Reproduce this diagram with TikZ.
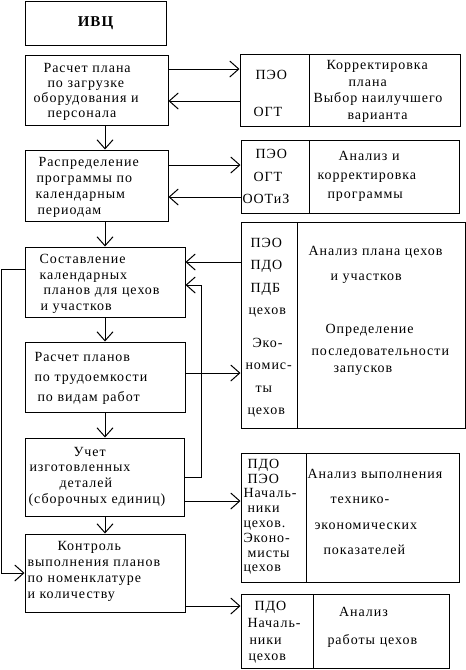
\documentclass[tikz,border=0pt]{standalone}
\usepackage{fontspec}
\setmainfont{Liberation Serif}[LetterSpace=7]
\usetikzlibrary{arrows.meta}

\begin{document}
\begin{tikzpicture}[x=1pt,y=-1pt,line width=1pt,
        >={Straight Barb[length=9pt,width=16pt]},
        box/.style={draw, inner sep=0pt},
        txt/.style={anchor=base west, inner sep=0pt, align=left, text width=170pt},
        lsk/.style={font=\fontsize{14}{#1}\selectfont}]

    \useasboundingbox (0,0) rectangle (466,670);

    % left column
    \node[box, minimum width=141pt, minimum height=44pt,
          font=\bfseries\fontsize{15}{18}\selectfont] (ivc) at (95.5,23) {ИВЦ};
    \node[box, minimum width=143pt, minimum height=70pt] (calc) at (96.5,90) {};
    \node[box, minimum width=143pt, minimum height=71pt] (distr) at (96.5,185.5) {};
    \node[box, minimum width=160pt, minimum height=70pt] (sched) at (105,282) {};
    \node[box, minimum width=160pt, minimum height=70pt] (labour) at (105,377) {};
    \node[box, minimum width=159pt, minimum height=78pt] (account) at (104.5,477) {};
    \node[box, minimum width=160pt, minimum height=78pt] (control) at (105,573) {};

    % right column: departments | tasks
    \node[box, minimum width=69pt, minimum height=72pt] (dep1) at (274.5,90) {};
    \node[box, minimum width=151pt, minimum height=72pt] (task1) at (384.5,90) {};
    \node[box, minimum width=68pt, minimum height=73pt] (dep2) at (275,176.5) {};
    \node[box, minimum width=150pt, minimum height=73pt] (task2) at (384,176.5) {};
    \node[box, minimum width=56pt, minimum height=206pt] (dep3) at (269,325) {};
    \node[box, minimum width=168pt, minimum height=206pt] (task3) at (381,325) {};
    \node[box, minimum width=65pt, minimum height=129pt] (dep4) at (273.5,517.5) {};
    \node[box, minimum width=153pt, minimum height=129pt] (task4) at (382.5,517.5) {};
    \node[box, minimum width=72pt, minimum height=74pt] (dep5) at (277,631) {};
    \node[box, minimum width=136pt, minimum height=74pt] (task5) at (381,631) {};

    % texts
    \node[txt, lsk=15] (calcT) at (33,72)
        {\hspace*{10pt}Расчет плана\\\hspace*{14pt}по загрузке\\оборудования и\\\hspace*{14pt}персонала};
    \node[txt, lsk=16.3] (distrT) at (35,166)
        {\hspace*{3pt}Распределение\\\hspace*{1pt}программы по\\календарным\\\hspace*{2pt}периодам};
    \node[txt, lsk=15.8] (schedT) at (39,263.3)
        {Составление\\календарных\\\hspace*{4pt}планов для цехов\\\hspace*{1pt}и участков};
    \node[txt, lsk=20] (labourT) at (34,361.7)
        {Расчет планов\\по трудоемкости\\\hspace*{3pt}по видам работ};
    \node[txt, lsk=15.7] (accountT) at (28,456)
        {\hspace*{45pt}Учет\\\hspace*{1pt}изготовленных\\\hspace*{31pt}деталей\\(сборочных единиц)};
    \node[txt, lsk=16] (controlT) at (27,550.7)
        {\hspace*{30pt}Контроль\\выполнения планов\\по номенклатуре\\и количеству};

    \node[txt, lsk=36.7] (dep1T) at (253,79.3) {\hspace*{2pt}ПЭО\\ОГТ};
    \node[txt, lsk=16.7] (task1T) at (313,69.3)
        {\hspace*{13pt}Корректировка\\\hspace*{35pt}плана\\Выбор наилучшего\\\hspace*{34pt}варианта};
    \node[txt, lsk=22.8] (dep2T) at (242,158.3)
        {\hspace*{13pt}ПЭО\\\hspace*{11pt}ОГТ\\ООТиЗ};
    \node[txt, lsk=19] (task2T) at (317,160)
        {\hspace*{21pt}Анализ и\\корректировка\\\hspace*{10pt}программы};
    \node[txt, lsk=22.5] (dep3T) at (245,247)
        {\hspace*{5pt}ПЭО\\\hspace*{5pt}ПДО\\\hspace*{5pt}ПДБ\\\hspace*{3pt}цехов\\[10pt]\hspace*{7pt}Эко-\\номис-\\\hspace*{10pt}ты\\\hspace*{2pt}цехов};
    \node[txt, lsk=16] (task3T) at (308,255)
        {Анализ плана цехов\\[9pt]\hspace*{22pt}и участков\\[37pt]\hspace*{17pt}Определение\\[6pt]\hspace*{3pt}последовательности\\[1pt]\hspace*{25pt}запусков};
    \node[txt, lsk=14.8] (dep4T) at (243,468.3)
        {\hspace*{4pt}ПДО\\\hspace*{4pt}ПЭО\\Началь-\\\hspace*{4pt}ники\\цехов.\\Эконо-\\\hspace*{4pt}мисты\\цехов};
    \node[txt, lsk=25.5] (task4T) at (307,478.3)
        {Анализ выполнения\\\hspace*{23pt}технико-\\\hspace*{7pt}экономических\\\hspace*{16pt}показателей};
    \node[txt, lsk=16.7] (dep5T) at (247,610.7)
        {\hspace*{7pt}ПДО\\Началь-\\\hspace*{2pt}ники\\\hspace*{1pt}цехов};
    \node[txt, lsk=28] (task5T) at (327,616)
        {\hspace*{11.5pt}Анализ\\работы цехов};

    % connectors
    \coordinate (axis) at (105,0);
    \draw[->] (calc.south -| axis) -- (distr.north -| axis);
    \draw[->] (distr.south -| axis) -- (sched.north -| axis);
    \draw[->] (sched.south -| axis) -- (labour.north -| axis);
    \draw[->] (labour.south -| axis) -- (account.north -| axis);
    \draw[->] (account.south -| axis) -- (control.north -| axis);

    \draw[->] ([yshift=21pt]calc.east) -- ([yshift=21pt]calc.east -| dep1.west);
    \draw[->] ([yshift=-11pt]calc.east -| dep1.west) -- ([yshift=-11pt]calc.east);
    \draw[->] ([yshift=20.5pt]distr.east) -- ([yshift=20.5pt]distr.east -| dep2.west);
    \draw[->] ([yshift=-11.5pt]distr.east -| dep2.west) -- ([yshift=-11.5pt]distr.east);
    \draw[->] ([yshift=63pt]dep3.west) -- ([yshift=63pt]dep3.west -| sched.east);
    \draw[->] ([yshift=4pt]labour.east) -- ([yshift=4pt]labour.east -| dep3.west);
    \draw[->] (account.east) -- ++(17,0) |- ([yshift=-3pt]sched.east);
    \draw[->] ([yshift=13pt]sched.west) -- ++(-23,0) |- (control.west);
    \draw[->] ([yshift=-24pt]account.east) -- ([yshift=-24pt]account.east -| dep4.west);
    \draw[->] ([yshift=-33pt]control.east) -- ([yshift=-33pt]control.east -| dep5.west);

\end{tikzpicture}
\end{document}
